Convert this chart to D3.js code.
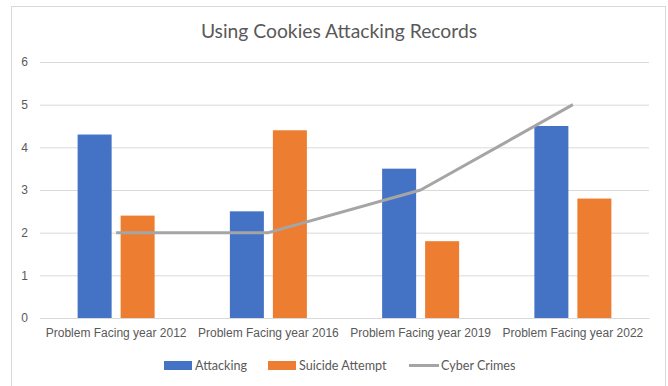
<!DOCTYPE html>
<html>
<head>
<meta charset="utf-8">
<script src="https://cdn.jsdelivr.net/npm/d3@7"></script>
<style>
  body { margin: 0; background: #fff; }
  svg { font-family: Lato, "Open Sans", sans-serif; }
</style>
</head>
<body>
<div id="chart"></div>
<script>
// Chart data
const categories = ["Problem Facing year 2012", "Problem Facing year 2016", "Problem Facing year 2019", "Problem Facing year 2022"];
const attacking = [4.3, 2.5, 3.5, 4.5];
const suicideAttempt = [2.4, 4.4, 1.8, 2.8];
const cyberCrimes = [2, 2, 3, 5];
const yTicks = [0, 1, 2, 3, 4, 5, 6];

const width = 668, height = 386;
const margin = {top: 62, right: 19, bottom: 68, left: 40};

const svg = d3.select("#chart")
    .append("svg")
    .attr("width", width)
    .attr("height", height);

// Outer chart frame
svg.append("rect")
    .attr("x", 11.5)
    .attr("y", 6.5)
    .attr("width", 654)
    .attr("height", 390)
    .attr("fill", "#fff")
    .attr("stroke", "#d9d9d9");

const x = d3.scaleBand()
    .domain(categories)
    .range([margin.left, width - margin.right]);

const y = d3.scaleLinear()
    .domain([0, 6])
    .range([height - margin.bottom, margin.top]);

// Gridlines
svg.append("g")
    .selectAll("line")
    .data(yTicks)
    .enter().append("line")
    .attr("x1", margin.left)
    .attr("x2", width - margin.right)
    .attr("y1", d => y(d) + 0.5)
    .attr("y2", d => y(d) + 0.5)
    .attr("stroke", "#d9d9d9")
    .attr("stroke-width", 1);

// Y axis labels
const yAxis = svg.append("g")
    .attr("transform", `translate(${margin.left},0)`)
    .call(d3.axisLeft(y).tickValues(yTicks).tickFormat(d3.format("d")).tickSize(0).tickPadding(12));
yAxis.select(".domain").remove();
yAxis.selectAll("text")
    .attr("fill", "#595959")
    .style("font-size", "12px");

// Bars
const barW = 34, gap = 9;
const groups = [
    {values: attacking, color: "#4472C4", offset: -(barW + gap / 2)},
    {values: suicideAttempt, color: "#ED7D31", offset: gap / 2}
];

groups.forEach(g => {
    svg.append("g")
        .selectAll("rect")
        .data(categories)
        .enter().append("rect")
        .attr("x", (d, i) => x(d) + x.bandwidth() / 2 + g.offset)
        .attr("width", barW)
        .attr("y", (d, i) => y(g.values[i]))
        .attr("height", (d, i) => y(0) - y(g.values[i]))
        .attr("fill", g.color);
});

// Cyber Crimes line
const line = d3.line()
    .x((d, i) => x(categories[i]) + x.bandwidth() / 2)
    .y(d => y(d));

svg.append("path")
    .datum(cyberCrimes)
    .attr("d", line)
    .attr("fill", "none")
    .attr("stroke", "#A5A5A5")
    .attr("stroke-width", 3)
    .attr("stroke-linejoin", "round");

// X axis labels
const xAxis = svg.append("g")
    .attr("transform", `translate(0,${y(0)})`)
    .call(d3.axisBottom(x).tickSize(0).tickPadding(10));
xAxis.select(".domain")
    .attr("stroke", "#d9d9d9");
xAxis.selectAll("text")
    .attr("fill", "#595959")
    .style("font-size", "12px");

// Title
svg.append("text")
    .attr("x", 339)
    .attr("y", 38)
    .attr("text-anchor", "middle")
    .attr("fill", "#595959")
    .style("font-size", "19.3px")
    .text("Using Cookies Attacking Records");

// Legend
const legend = svg.append("g").style("font-size", "12.6px").attr("fill", "#595959");
const legendItems = [
    {name: "Attacking", color: "#4472C4", type: "rect", x: 164},
    {name: "Suicide Attempt", color: "#ED7D31", type: "rect", x: 268},
    {name: "Cyber Crimes", color: "#A5A5A5", type: "line", x: 409}
];
legendItems.forEach(item => {
    if (item.type === "rect") {
        legend.append("rect")
            .attr("x", item.x)
            .attr("y", 361)
            .attr("width", 28)
            .attr("height", 9)
            .attr("fill", item.color);
    } else {
        legend.append("line")
            .attr("x1", item.x)
            .attr("x2", item.x + 30)
            .attr("y1", 365.5)
            .attr("y2", 365.5)
            .attr("stroke", item.color)
            .attr("stroke-width", 3);
    }
    legend.append("text")
        .attr("x", item.x + (item.type === "rect" ? 31 : 32))
        .attr("y", 370)
        .text(item.name);
});
</script>
</body>
</html>
